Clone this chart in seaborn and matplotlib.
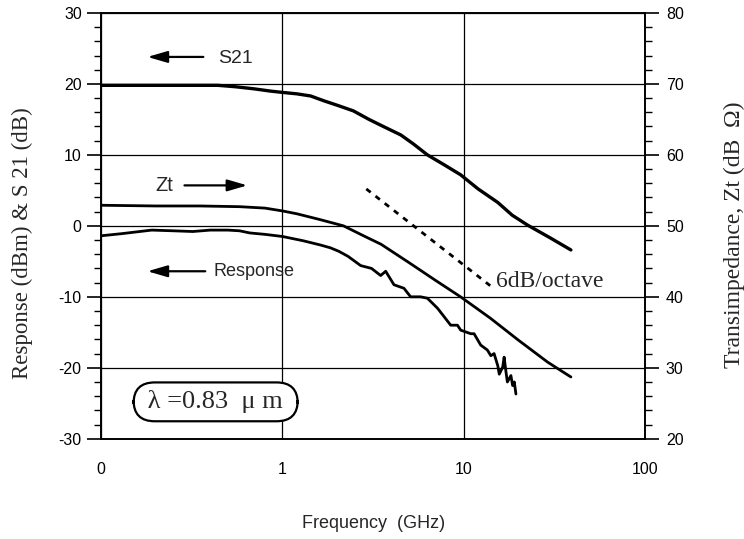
import matplotlib
matplotlib.use("Agg")
import matplotlib.pyplot as plt
import seaborn as sns
import pandas as pd
from matplotlib.ticker import FixedLocator, NullFormatter, LogLocator

# ---- data ----
freq_s21 = [0.1, 0.2, 0.3, 0.44, 0.55, 0.7, 0.85, 1.0, 1.2, 1.43, 1.7, 2.0, 2.46, 3.0, 3.6, 4.5,
            5.3, 6.3, 7.8, 9.6, 12.0, 15.4, 18.5, 22.5, 30, 39]
s21_db = [19.8, 19.8, 19.8, 19.8, 19.6, 19.3, 19.0, 18.8, 18.6, 18.3, 17.6, 17.0, 16.2, 15.0, 14.0, 12.8,
          11.5, 10.0, 8.6, 7.2, 5.2, 3.3, 1.5, 0.1, -1.7, -3.4]

freq_zt = [0.1, 0.2, 0.35, 0.58, 0.8, 1.0, 1.2, 1.6, 2.17, 2.8, 3.5, 5.0, 7.0, 9.6, 14, 20, 29, 39]
zt_dbohm = [52.9, 52.8, 52.8, 52.7, 52.5, 52.1, 51.7, 50.9, 50.0, 48.6, 47.4, 44.8, 42.3, 40.0, 37.0, 33.9,
            30.8, 28.7]

freq_resp = [0.1, 0.13, 0.19, 0.25, 0.32, 0.4, 0.5, 0.58, 0.66, 0.8, 1.0, 1.3, 1.62, 1.84, 2.05,
             2.3, 2.7, 3.1, 3.48, 3.71, 4.12, 4.68, 5.09, 5.78, 6.3, 7.16, 7.79, 8.47, 9.23, 9.62,
             10.93, 11.4, 12.4, 13.5, 14.1, 14.7, 15.4, 15.7, 16.4, 16.7, 17.1, 17.4, 18.2, 18.6,
             19.0, 19.4]
resp_dbm = [-1.4, -1.1, -0.6, -0.7, -0.8, -0.6, -0.6, -0.7, -1.0, -1.2, -1.5, -2.1, -2.7, -3.1, -3.6,
            -4.3, -5.6, -6.0, -7.0, -6.4, -8.3, -8.8, -10.0, -10.0, -10.2, -11.6, -12.8, -14.0, -14.0, -14.7,
            -15.2, -15.2, -16.8, -17.5, -18.3, -18.0, -19.7, -20.9, -19.9, -18.5, -20.6, -22.0, -21.1, -22.5,
            -22.0, -23.7]

slope_freq = [2.9, 14.1]
slope_db = [5.2, -8.5]

x_ticks = [0.1, 1, 10, 100]
x_ticklabels = ["0", "1", "10", "100"]
yl_ticks = [-30, -20, -10, 0, 10, 20, 30]
yr_ticks = [20, 30, 40, 50, 60, 70, 80]

df_s21 = pd.DataFrame({"f": freq_s21, "v": s21_db})
df_zt = pd.DataFrame({"f": freq_zt, "v": zt_dbohm})
df_resp = pd.DataFrame({"f": freq_resp, "v": resp_dbm})
df_slope = pd.DataFrame({"f": slope_freq, "v": slope_db})

sns.set_style("white")
plt.rcParams["font.family"] = ["Liberation Sans", "DejaVu Sans"]
plt.rcParams["axes.unicode_minus"] = False
serif = ["Liberation Serif", "DejaVu Serif"]

fig = plt.figure(figsize=(7.44, 5.39), dpi=100)
ax = fig.add_axes([0.136, 0.186, 0.731, 0.790])
ax2 = ax.twinx()

sns.lineplot(data=df_s21, x="f", y="v", ax=ax, color="black", lw=2.4, estimator=None, sort=False)
sns.lineplot(data=df_resp, x="f", y="v", ax=ax, color="black", lw=2.0, estimator=None, sort=False)
sns.lineplot(data=df_slope, x="f", y="v", ax=ax, color="black", lw=2.0, estimator=None,
             linestyle=(0, (2, 2.2)))
sns.lineplot(data=df_zt, x="f", y="v", ax=ax2, color="black", lw=2.0, estimator=None, sort=False)

ax.set_xscale("log")
ax.set_xlim(0.1, 100)
ax.set_ylim(-30, 30)
ax2.set_ylim(20, 80)

ax.xaxis.set_major_locator(FixedLocator(x_ticks))
ax.set_xticklabels(x_ticklabels)
ax.xaxis.set_minor_locator(LogLocator(base=10, subs=range(2, 10)))
ax.xaxis.set_minor_formatter(NullFormatter())
ax.set_yticks(yl_ticks)
ax.set_yticks(range(-30, 31, 2), minor=True)
ax2.set_yticks(yr_ticks)
ax2.set_yticks(range(20, 81, 2), minor=True)

ax.grid(True, which="major", color="black", lw=0.9)
ax.set_axisbelow(True)
for a in (ax, ax2):
    for s in a.spines.values():
        s.set_color("black")
        s.set_linewidth(1.2)
ax.tick_params(axis="both", which="major", direction="out", length=10, width=1.2,
               labelsize=11.5, colors="black", pad=4)
ax.tick_params(axis="both", which="minor", direction="out", length=5, width=1.0, colors="black")
ax.tick_params(axis="x", which="major", pad=7)
ax2.tick_params(axis="y", which="major", direction="out", length=10, width=1.2,
                labelsize=11.5, colors="black", pad=5)
ax2.tick_params(axis="y", which="minor", direction="out", length=5, width=1.0, colors="black")

ax.set_xlabel("Frequency  (GHz)", fontsize=13, labelpad=27)
ax.set_ylabel("Response (dBm) & S 21 (dB)", fontsize=16.5, family=serif)
ax.yaxis.set_label_coords(-0.125, 0.46)
ax2.set_ylabel("Transimpedance, Zt (dB  Ω)", fontsize=17, family=serif)
ax2.yaxis.set_label_position("right")
ax2.yaxis.set_label_coords(1.144, 0.48)

arrow_kw = dict(arrowstyle="-|>,head_length=1.2,head_width=0.35", color="black", lw=1.6,
                shrinkA=0, shrinkB=0)
ax.annotate("", xy=(0.18, 23.8), xytext=(0.366, 23.8), arrowprops=arrow_kw)
ax.text(0.443, 23.6, "S21", fontsize=14, va="center", ha="left")
ax.annotate("", xy=(0.64, 5.7), xytext=(0.288, 5.7), arrowprops=arrow_kw)
ax.text(0.2, 5.7, "Zt", fontsize=14.5, va="center", ha="left")
ax.annotate("", xy=(0.18, -6.4), xytext=(0.375, -6.4), arrowprops=arrow_kw)
ax.text(0.417, -6.4, "Response", fontsize=13, va="center", ha="left")
ax.text(15.0, -7.8, "6dB/octave", fontsize=17, va="center", ha="left", family=serif)
ax.text(0.428, -24.8, " λ =0.83  μ m ", fontsize=19, va="center", ha="center", family=serif,
        bbox=dict(boxstyle="round,pad=0.3,rounding_size=0.8", fc="white", ec="black", lw=1.6))

fig.savefig("out.png", dpi=100, facecolor="white")
